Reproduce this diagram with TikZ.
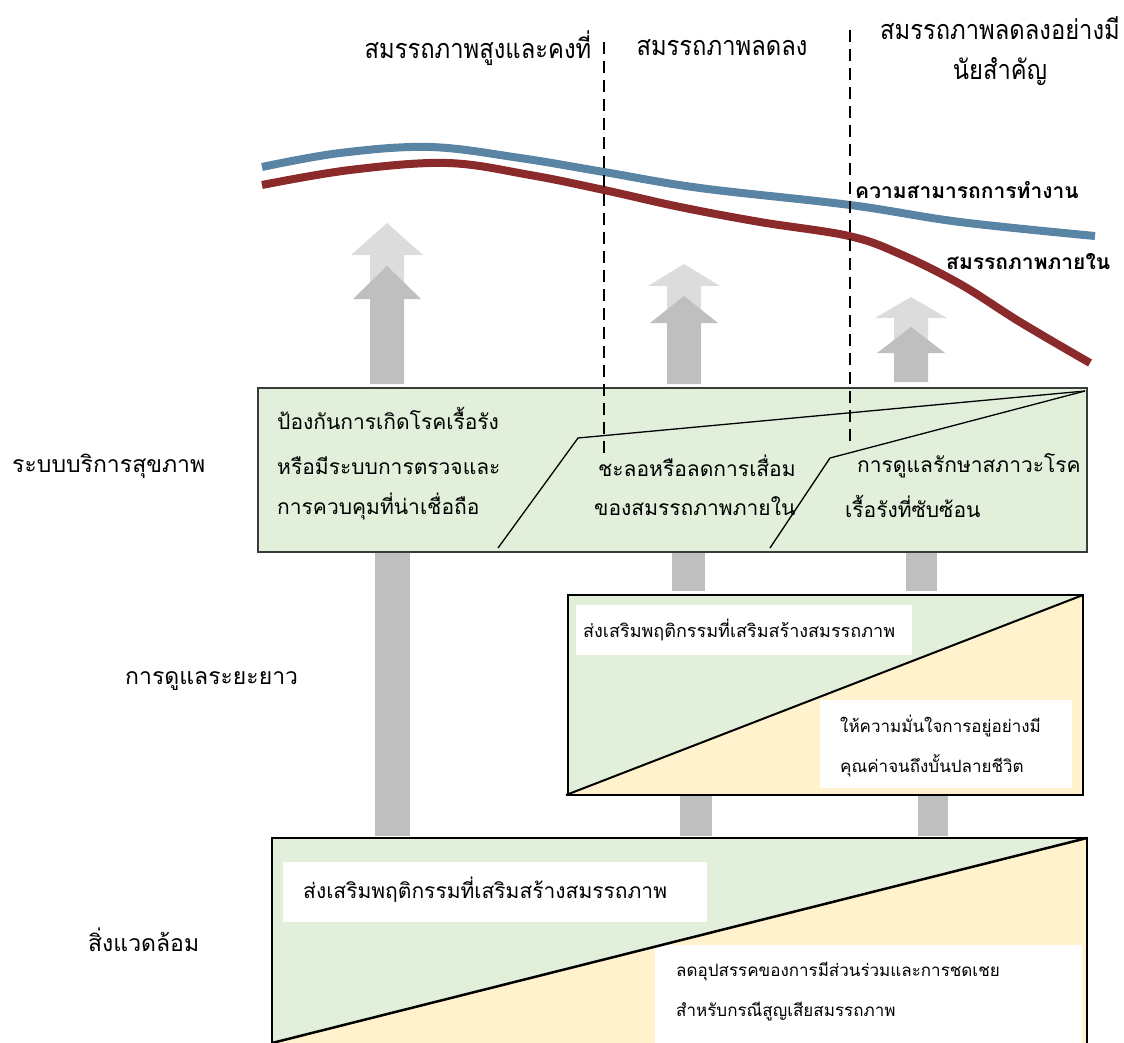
\documentclass[tikz,border=0pt]{standalone}
\usepackage{fontspec}
\newfontfamily\thai[Script=Thai]{Loma}
\newfontfamily\thaicond[Script=Thai, FakeStretch=0.88]{Loma}
\definecolor{boxgreen}{HTML}{E2EFDA}
\definecolor{boxyellow}{HTML}{FFF2CC}
\definecolor{curveblue}{HTML}{5A84A4}
\definecolor{curvered}{HTML}{8B2A2A}
\definecolor{arrowlight}{HTML}{DCDCDC}
\definecolor{arrowdark}{HTML}{BFBFBF}
\definecolor{boxborder}{HTML}{3A3A3A}
\newcommand\myblockarrow[6]{% cx, tip, headbase, bottom, halfhead, colour
  \fill[#6] (#1,#2) -- (#1+#5,#3) -- (#1+17,#3) -- (#1+17,#4) -- (#1-17,#4) -- (#1-17,#3) -- (#1-#5,#3) -- cycle;}
\tikzset{
  toplabel/.style={font=\thaicond\fontsize{27}{44}\selectfont, inner sep=0pt},
  sidelabel/.style={font=\thai\fontsize{23}{30}\selectfont, inner sep=0pt},
  boxtext/.style={font=\thai\fontsize{21}{40}\selectfont, inner sep=0pt, anchor=west},
  smalltext/.style={font=\thai\fontsize{17}{40}\selectfont, inner sep=0pt, anchor=west},
  smalltextb/.style={font=\thai\fontsize{18}{40}\selectfont, inner sep=0pt, anchor=west},
  midtext/.style={font=\thai\fontsize{21}{40}\selectfont, inner sep=0pt, anchor=west},
  curvelabel/.style={font=\thai\bfseries\fontsize{21}{24}\selectfont, inner sep=0pt, anchor=west},
  phase/.style={dashed, dash pattern=on 12pt off 7pt, line width=2pt},
  connector/.style={fill=arrowdark},
  whitebox/.style={fill=white},
}
\begin{document}
\begin{tikzpicture}[x=1pt,y=-1pt]
\useasboundingbox (0,0) rectangle (1124,1043);
\clip (0,0) rectangle (1124,1043);
% top labels
\node[toplabel] (lab1) at (478,48) {สมรรถภาพสูงและคงที่};
\node[toplabel] (lab2) at (722,48) {สมรรถภาพลดลง};
\node[toplabel] (lab3a) at (1000,28) {สมรรถภาพลดลงอย่างมี};
\node[toplabel] (lab3b) at (1000,72) {นัยสำคัญ};
% curves
\draw[curveblue, line width=8pt, line cap=butt] plot[smooth, tension=0.6] coordinates {(262,167) (340,153) (430,147) (520,158) (604,172) (700,188) (850,205) (960,222) (1095,236)};
\draw[curvered, line width=8pt, line cap=butt] plot[smooth, tension=0.6] coordinates {(262,185) (350,170) (447,163) (530,175) (604,190) (680,207) (760,222) (849,236) (900,254) (960,284) (1020,322) (1090,363)};
\node[curvelabel] (cap) at (855,190) {ความสามารถการทำงาน};
\node[curvelabel] (intr) at (946,262) {สมรรถภาพภายใน};
% block arrows
\myblockarrow{387}{223}{255}{300}{36}{arrowlight}
\myblockarrow{387}{266}{299}{384}{34}{arrowdark}
\myblockarrow{684}{264}{286}{320}{36}{arrowlight}
\myblockarrow{684}{296}{323}{384}{34}{arrowdark}
\myblockarrow{911}{297}{318}{350}{36}{arrowlight}
\myblockarrow{911}{327}{353}{382}{34}{arrowdark}
% connectors
\fill[connector] (375,552) rectangle (410,836);
\fill[connector] (672,552) rectangle (705,591);
\fill[connector] (906,552) rectangle (937,591);
\fill[connector] (680,795) rectangle (712,836);
\fill[connector] (918,795) rectangle (948,836);
% box 1
\draw[boxborder, fill=boxgreen, line width=1.5pt] (258,388) rectangle (1087,552);
\coordinate (tr1) at (1085,391);
\draw[line width=1.3pt] (498,548) -- (578,438) -- (tr1);
\draw[line width=1.3pt] (770,548) -- (830,458) -- (tr1);
\node[boxtext] (t11) at (277,418) {ป้องกันการเกิดโรคเรื้อรัง};
\node[boxtext] (t12) at (277,466) {หรือมีระบบการตรวจและ};
\node[boxtext] (t13) at (277,506) {การควบคุมที่น่าเชื่อถือ};
\node[boxtext] (t21) at (598,466) {ชะลอหรือลดการเสื่อม};
\node[boxtext] (t22) at (594,506) {ของสมรรถภาพภายใน};
\node[boxtext] (t31) at (857,466) {การดูแลรักษาสภาวะโรค};
\node[boxtext] (t32) at (845,506) {เรื้อรังที่ซับซ้อน};
% dashed phase lines
\draw[phase] (604,42) -- (604,455);
\draw[phase] (850,30) -- (850,447);
% box 2
\fill[boxgreen] (568,795) -- (568,595) -- (1083,595) -- cycle;
\fill[boxyellow] (568,795) -- (1083,595) -- (1083,795) -- cycle;
\fill[whitebox] (576,605) rectangle (912,655);
\fill[whitebox] (820,700) rectangle (1072,788);
\draw[black, line width=1.5pt] (568,595) rectangle (1083,795);
\draw[black, line width=2pt] (566,795) -- (1083,595);
\node[smalltextb] (s1) at (583,630) {ส่งเสริมพฤติกรรมที่เสริมสร้างสมรรถภาพ};
\node[smalltext] (s2) at (840,726) {ให้ความมั่นใจการอยู่อย่างมี};
\node[smalltext] (s3) at (840,766) {คุณค่าจนถึงบั้นปลายชีวิต};
% box 3
\fill[boxgreen] (272,1043) -- (272,838) -- (1087,838) -- cycle;
\fill[boxyellow] (272,1043) -- (1087,838) -- (1087,1050) -- (272,1050) -- cycle;
\fill[whitebox] (283,862) rectangle (707,922);
\fill[whitebox] (655,945) rectangle (1082,1050);
\draw[black, line width=1.5pt] (272,1060) -- (272,838) -- (1087,838) -- (1087,1060);
\draw[black, line width=2.5pt] (272,1043) -- (1087,838);
\node[midtext] (m1) at (303,890) {ส่งเสริมพฤติกรรมที่เสริมสร้างสมรรถภาพ};
\node[smalltext] (m2) at (676,972) {ลดอุปสรรคของการมีส่วนร่วมและการชดเชย};
\node[smalltext] (m3) at (676,1012) {สำหรับกรณีสูญเสียสมรรถภาพ};
% side labels
\node[sidelabel, anchor=west] (side1) at (12,466) {ระบบบริการสุขภาพ};
\node[sidelabel, anchor=west] (side2) at (125,681) {การดูแลระยะยาว};
\node[sidelabel, anchor=west] (side3) at (88,940) {สิ่งแวดล้อม};
\end{tikzpicture}
\end{document}
